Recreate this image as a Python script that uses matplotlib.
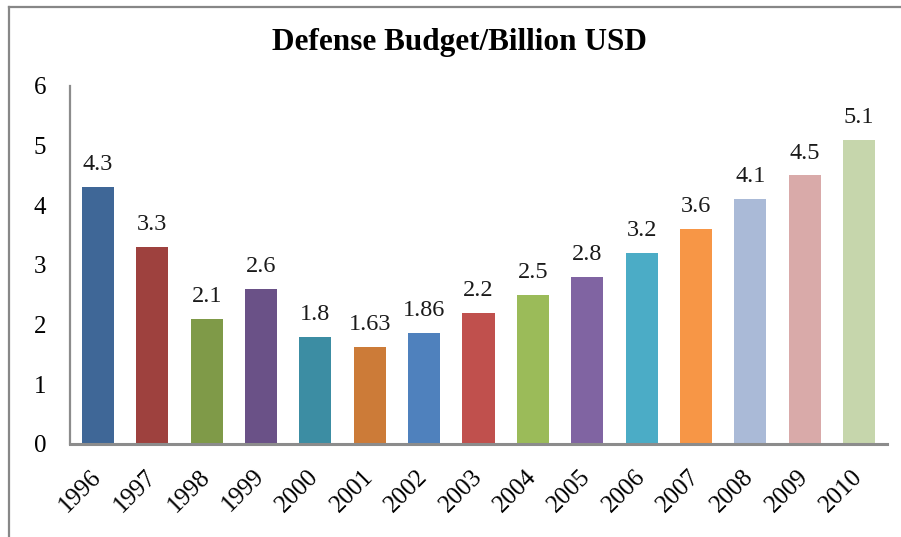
import matplotlib.pyplot as plt
from matplotlib.lines import Line2D

years = ["1996", "1997", "1998", "1999", "2000", "2001", "2002", "2003",
         "2004", "2005", "2006", "2007", "2008", "2009", "2010"]
budget = [4.3, 3.3, 2.1, 2.6, 1.8, 1.63, 1.86, 2.2, 2.5, 2.8, 3.2, 3.6, 4.1, 4.5, 5.1]
colors = ["#3F6797", "#9E413E", "#7F9A48", "#6A5187", "#3C8DA3", "#CC7B38",
          "#4F81BD", "#C0504D", "#9BBB59", "#8064A2", "#4BACC6", "#F79646",
          "#AABAD7", "#D9AAA9", "#C6D6AC"]

plt.rcParams['font.family'] = ['Liberation Serif', 'DejaVu Serif']

fig = plt.figure(figsize=(9.01, 5.37), dpi=100)
ax = fig.add_axes([0.0777, 0.1732, 0.9068, 0.6667])

x = range(len(years))
bars = ax.bar(x, budget, width=0.59, color=colors)
for b, v in zip(bars, budget):
    ax.text(b.get_x() + b.get_width() / 2, v + 0.2, f"{v:g}",
            ha='center', va='bottom', fontsize=17.5, color='#1a1a1a')

ax.set_xlim(-0.515, len(years) - 0.485)
ax.set_ylim(0, 6)
ax.set_yticks(range(7))
ax.set_yticklabels([str(i) for i in range(7)], fontsize=18)
ax.set_xticks(list(x))
ax.set_xticklabels(years, rotation=45, ha='right', va='center',
                   rotation_mode='anchor', fontsize=18)
ax.tick_params(axis='y', length=0, pad=17)
ax.tick_params(axis='x', length=0, pad=21)

for side in ['top', 'right']:
    ax.spines[side].set_visible(False)
ax.spines['left'].set_color('#8c8c8c')
ax.spines['left'].set_linewidth(1.6)
ax.spines['bottom'].set_color('#8c8c8c')
ax.spines['bottom'].set_linewidth(2.2)

fig.text(0.51, 0.92, "Defense Budget/Billion USD", ha='center', va='center',
         fontsize=22.5, fontweight='bold')

# outer chart frame, left and top edges
fig.add_artist(Line2D([9 / 901, 9 / 901], [0, 1 - 7 / 537], color='#878787', lw=1.6))
fig.add_artist(Line2D([9 / 901, 1], [1 - 7 / 537, 1 - 7 / 537], color='#878787', lw=1.6))

fig.savefig("out.png", dpi=100)
